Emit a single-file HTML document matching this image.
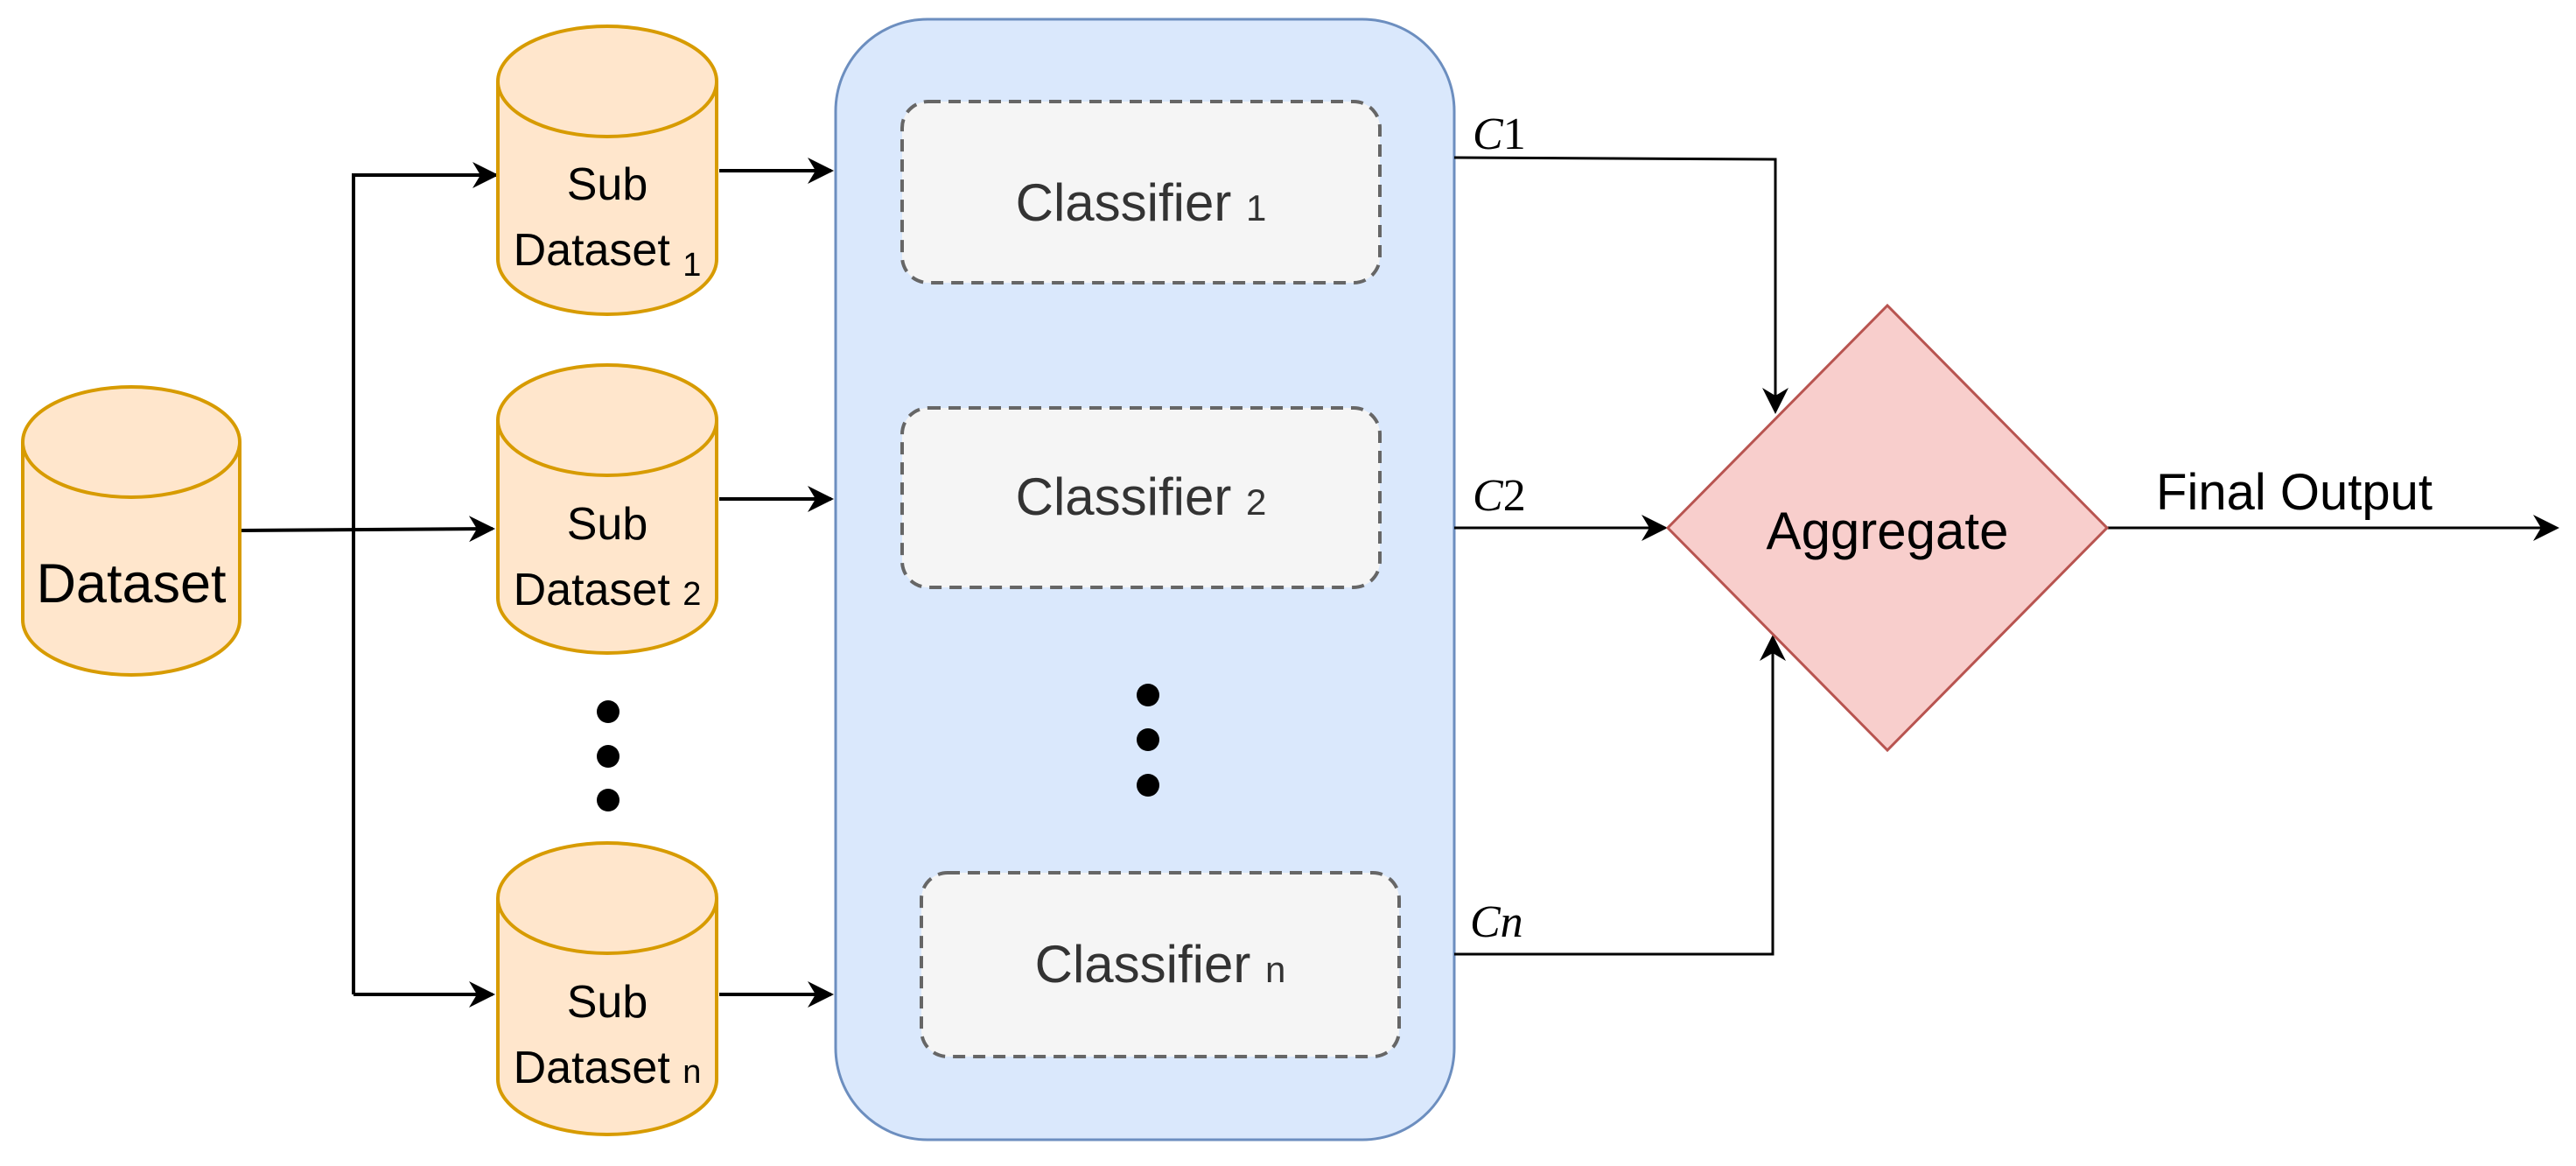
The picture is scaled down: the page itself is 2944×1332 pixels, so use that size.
<!DOCTYPE html>
<html><head><meta charset="utf-8"><style>
html,body{margin:0;padding:0;background:#fff;}
svg{display:block;}
.s{font-family:"Liberation Sans",sans-serif;}
.m{font-family:"Liberation Serif",serif;font-style:italic;}
</style></head><body>
<svg width="2944" height="1332" viewBox="0 0 2944 1332" xmlns="http://www.w3.org/2000/svg">
<defs>
<marker id="ar" viewBox="0 0 20 20" refX="18" refY="10" markerWidth="30" markerHeight="30" markerUnits="userSpaceOnUse" orient="auto">
<path d="M0,0 L20,10 L0,20 L6,10 Z" fill="#000"/>
</marker>
<marker id="ar2" viewBox="0 0 20 20" refX="18" refY="10" markerWidth="30" markerHeight="30" markerUnits="userSpaceOnUse" orient="auto">
<path d="M0,0 L20,10 L0,20 L6,10 Z" fill="#000"/>
</marker>
</defs>

<g stroke="#000" stroke-width="4" fill="none">
<path d="M274,606 L563,604" marker-end="url(#ar2)"/>
<path d="M404,1136 L404,200 L567,200" marker-end="url(#ar2)"/>
<path d="M404,1136 L563,1136" marker-end="url(#ar2)"/>
<path d="M822,195 L950,195" marker-end="url(#ar2)"/>
<path d="M822,570 L950,570" marker-end="url(#ar2)"/>
<path d="M822,1136 L950,1136" marker-end="url(#ar2)"/>
</g>

<g stroke="#d79b00" stroke-width="4" fill="#ffe6cc">
<path d="M26,505 L26,708 A124,63 0 0 0 274,708 L274,505"/>
<ellipse cx="150" cy="505" rx="124" ry="63"/>
<path d="M569,93 L569,296 A125,63 0 0 0 819,296 L819,93"/>
<ellipse cx="694" cy="93" rx="125" ry="63"/>
<path d="M569,480 L569,683 A125,63 0 0 0 819,683 L819,480"/>
<ellipse cx="694" cy="480" rx="125" ry="63"/>
<path d="M569,1026 L569,1233 A125,63 0 0 0 819,1233 L819,1026"/>
<ellipse cx="694" cy="1026" rx="125" ry="63"/>
</g>
<g class="s">
<text x="150" y="688" font-size="63" text-anchor="middle">Dataset</text>
<text x="694" y="228" font-size="52" text-anchor="middle">Sub</text>
<text x="694" y="303" font-size="52" text-anchor="middle">Dataset <tspan font-size="38" dy="12">1</tspan></text>
<text x="694" y="616" font-size="52" text-anchor="middle">Sub</text>
<text x="694" y="691" font-size="52" text-anchor="middle">Dataset <tspan font-size="38">2</tspan></text>
<text x="694" y="1162" font-size="52" text-anchor="middle">Sub</text>
<text x="694" y="1237" font-size="52" text-anchor="middle">Dataset <tspan font-size="38">n</tspan></text>
</g>
<circle cx="695" cy="813" r="13"/><circle cx="695" cy="864" r="13"/><circle cx="695" cy="914" r="13"/>

<rect x="955" y="22" width="707" height="1280" rx="105" ry="105" fill="#dae8fc" stroke="#6c8ebf" stroke-width="3"/>
<g fill="#f5f5f5" stroke="#666" stroke-width="4" stroke-dasharray="14,9">
<rect x="1031" y="116" width="546" height="207" rx="30"/>
<rect x="1031" y="466" width="546" height="205" rx="30"/>
<rect x="1053" y="997" width="546" height="210" rx="30"/>
</g>
<g class="s" fill="#333" font-size="60" text-anchor="middle">
<text x="1304" y="252">Classifier <tspan font-size="42">1</tspan></text>
<text x="1304" y="588">Classifier <tspan font-size="42">2</tspan></text>
<text x="1326" y="1122">Classifier <tspan font-size="42">n</tspan></text>
</g>
<circle cx="1312" cy="794" r="13"/><circle cx="1312" cy="845" r="13"/><circle cx="1312" cy="897" r="13"/>

<g stroke="#000" stroke-width="3" fill="none">
<path d="M1662,180 L2029,182 L2029,470" marker-end="url(#ar)"/>
<path d="M1662,603 L1903,603" marker-end="url(#ar)"/>
<path d="M1662,1090 L2026,1090 L2026,728" marker-end="url(#ar)"/>
<path d="M2408,603 L2922,603" marker-end="url(#ar)"/>
</g>
<polygon points="2157,349 2408,603 2157,857 1906,603" fill="#f8cecc" stroke="#b85450" stroke-width="3"/>
<text class="s" x="2157" y="627" font-size="60" text-anchor="middle">Aggregate</text>
<text class="s" x="2622" y="582" font-size="58" text-anchor="middle">Final Output</text>
<g class="m" font-size="52">
<text x="1683" y="170">C<tspan font-style="normal">1</tspan></text>
<text x="1683" y="583">C<tspan font-style="normal">2</tspan></text>
<text x="1680" y="1070">Cn</text>
</g>
</svg>
</body></html>
